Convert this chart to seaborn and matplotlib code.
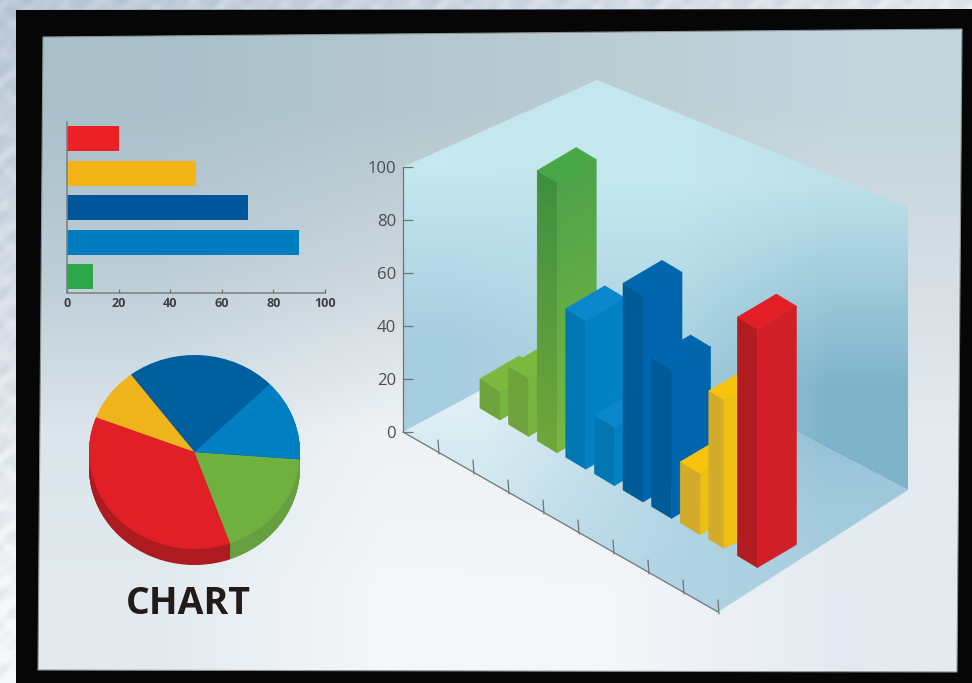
import numpy as np
import pandas as pd
import matplotlib
matplotlib.use('Agg')
import matplotlib.pyplot as plt
from matplotlib.colors import to_rgb
from matplotlib.patches import Polygon
import seaborn as sns

sns.set_theme(style='white')
plt.rcParams['font.family'] = ['Open Sans', 'DejaVu Sans']

W, H = 972, 683

# small bar chart
hbar_names = ['a', 'b', 'c', 'd', 'e']
hbar_values = [20, 50, 70, 90, 10]
hbar_colors = ['#ec2027', '#f2b417', '#00569a', '#007cc0', '#2ca84a']
hbar_ticks = [0, 20, 40, 60, 80, 100]

# pie
pie_values = [22.9, 8.9, 36.3, 18.3, 13.6]
pie_colors = ['#005f9f', '#efb41c', '#e11f26', '#6fb03f', '#0080c3']
pie_side_colors = ['#00467a', '#b98a10', '#ad1b20', '#659f3f', '#005f94']

# 3d bars, left to right
bar_values = [11, 22, 102, 56, 22, 78, 56, 23, 56, 90]
bar_groups = ['lime', 'lime', 'grass', 'sky', 'sky', 'navy', 'navy', 'gold', 'gold', 'red']
z_ticks = [0, 20, 40, 60, 80, 100]
floor_ticks = [1, 2, 3, 4, 5, 6, 7, 8, 9]

# top, left face (upper, lower), right face (upper, lower)
shades = {
    'lime': ('#7bba3f', '#6da33a', '#6ea23a', '#76b53f', '#76b53f'),
    'grass': ('#49a846', '#3f8f40', '#6fa63a', '#4da248', '#79b740'),
    'sky': ('#0a87cd', '#0077b0', '#0077b0', '#0081c4', '#0081c4'),
    'navy': ('#0066ae', '#005a95', '#005a95', '#0065ad', '#0065ad'),
    'gold': ('#f6c40c', '#d2ab2a', '#d2ab2a', '#eebf14', '#eebf14'),
    'red': ('#e21e26', '#b21b20', '#b21b20', '#d01f26', '#d01f26'),
}


def px_axes(left, top, right, bottom):
    return fig.add_axes([left / W, 1 - bottom / H, (right - left) / W, (bottom - top) / H],
                        facecolor='none')


def grad_poly(ax, corners, grid, z):
    # colour grid stretched over the bounding box, clipped to the polygon
    corners = np.array(corners, dtype=float)
    x0, y0 = corners.min(axis=0)
    x1, y1 = corners.max(axis=0)
    img = np.array([[to_rgb(c) for c in row] for row in grid])
    im = ax.imshow(img, extent=(x0, x1, y1, y0), aspect='auto', interpolation='bilinear', zorder=z)
    clip = Polygon(corners, closed=True, transform=ax.transData, fc='none', ec='none')
    im.set_clip_path(clip)
    return im


def shade_face(ax, low_a, low_b, height, up_col, low_col, z):
    # vertical face cut into bands so it fades from top to bottom
    up_rgb = np.array(to_rgb(up_col))
    low_rgb = np.array(to_rgb(low_col))
    steps = 30 if up_col != low_col else 1
    for k in range(steps):
        f0, f1 = k / steps, (k + 1) / steps
        col = up_rgb + (low_rgb - up_rgb) * (f0 + f1) / 2
        y_top, y_low = height * (1 - f0), height * (1 - f1)
        band = [(low_a[0], low_a[1] - y_top), (low_b[0], low_b[1] - y_top),
                (low_b[0], low_b[1] - y_low), (low_a[0], low_a[1] - y_low)]
        ax.add_patch(Polygon(band, fc=col, ec=col, lw=0.4, zorder=z))


fig = plt.figure(figsize=(W / 100, H / 100), dpi=100)

bg = px_axes(0, 0, W, H)
bg.set_xlim(0, W)
bg.set_ylim(H, 0)
bg.set_autoscale_on(False)
bg.axis('off')

# mottled strip outside the black frame
yy, xx = np.mgrid[0:H:2, 0:W:2]
mottle = (0.5 + 0.2 * np.sin(xx / 5 + 2 * np.sin(yy / 6)) + 0.2 * np.sin(yy / 4 + 2 * np.sin(xx / 7))
          + 0.1 * np.sin((xx + yy) / 2.5))
fade = np.clip(yy / H * 1.1 + xx / W * 0.7, 0, 1)
amount = np.clip(0.1 + 0.3 * mottle + 0.7 * fade, 0, 1)[..., None]
strip = (1 - amount) * np.array(to_rgb('#a6b7cb')) + amount * np.array(to_rgb('#f6f8f9'))
bg.imshow(strip, extent=(0, W, H, 0), aspect='auto', interpolation='bilinear', zorder=0)

bg.add_patch(Polygon([(16, 10), (W, 9), (W, H), (16, H)], fc='#060606', ec='none', zorder=1))

panel = [(43, 37), (962, 29), (957, 672), (38, 670)]
grad_poly(bg, panel, [['#a9c0ca', '#b3c6ce', '#bccdd4', '#c2d5dc'],
                      ['#bccdd6', '#cbd6dd', '#d3dbe1', '#d5dee4'],
                      ['#dbe5eb', '#eef2f5', '#eff2f6', '#e4eaf0'],
                      ['#e2eaef', '#f5f7f9', '#f4f6f9', '#e3eaf1']], 2)
bg.add_patch(Polygon(panel, fc='none', ec='#8a9296', lw=0.8, zorder=3))

# box of the 3d chart
origin = (403, 432)
origin_top = (403, 167)
back_floor = (597, 328)
back_top = (597, 80)
right_top = (908, 207)
right_floor = (908, 490)
front_tip = (718, 612)

grad_poly(bg, [origin, origin_top, back_top, back_floor],
          [['#c6e8ef', '#c4e7ee'], ['#a6cde0', '#aed3e2']], 4)
grad_poly(bg, [back_top, right_top, right_floor, back_floor],
          [['#c4e8ef', '#bfe2ea'], ['#a5cddd', '#7fb3cb']], 4)
grad_poly(bg, [origin, back_floor, right_floor, front_tip],
          [['#e6f2f7', '#b4d6e4', '#86b7ce'],
           ['#d4e9f1', '#b8d8e6', '#9cc6da'],
           ['#c4e0ec', '#b2d5e5', '#a8cee0']], 5)


def bar_point(i, along, deep):
    # floor point of bar i, measured from its front corner
    x = 500 + 28.6 * i + 20 * along + 39 * deep
    y = 420 + 16.4 * i + 12 * along - 23 * deep
    return x, y


for i, (val, grp) in enumerate(zip(bar_values, bar_groups)):
    top, left_up, left_low, right_up, right_low = shades[grp]
    z = 10 + i
    h = 2.65 * val
    left = bar_point(i, -1, 0)
    front = bar_point(i, 0, 0)
    right = bar_point(i, 0, 1)
    back = bar_point(i, -1, 1)
    # the yellow bar beside the red one has a narrower front face
    if i == 8:
        front = (front[0] - 5, front[1] - 3)
    shade_face(bg, left, front, h, left_up, left_low, z)
    shade_face(bg, front, right, h, right_up, right_low, z)
    top_face = [(p[0], p[1] - h) for p in (left, front, right, back)]
    bg.add_patch(Polygon(top_face, fc=top, ec=top, lw=0.4, zorder=z))

# floor axis
bg.plot([origin[0], front_tip[0]], [origin[1], front_tip[1]], color='#6f7477', lw=0.9, zorder=6)
for t in floor_ticks:
    tx = origin[0] + 35 * t
    ty = origin[1] + 20 * t
    bg.plot([tx, tx + 1], [ty - 12, ty + 2], color='#6f7477', lw=0.9, zorder=6)

# height axis
zax = px_axes(403, 167, 413, 432)
zax.set_ylim(0, 100)
zax.set_xlim(0, 1)
zax.set_xticks([])
zax.set_yticks(z_ticks)
zax.tick_params(axis='y', direction='in', length=7, width=0.9, color='#6f7477',
                labelsize=12, labelcolor='#4d4d4f', pad=5, left=True)
sns.despine(ax=zax, top=True, right=True, bottom=True)
zax.spines['left'].set_color('#6f7477')
zax.spines['left'].set_linewidth(0.9)

# horizontal bars
bar_ax = px_axes(67, 122, 325, 293)
df_bars = pd.DataFrame({'name': hbar_names, 'value': hbar_values})
sns.barplot(data=df_bars, x='value', y='name', hue='name', palette=hbar_colors, order=hbar_names,
            orient='h', width=0.73, legend=False, saturation=1, linewidth=0, ax=bar_ax)
bar_ax.set_xlim(0, 100)
bar_ax.set_ylim(4.48, -0.49)
bar_ax.set_xticks(hbar_ticks)
bar_ax.set_yticks([])
bar_ax.set_xlabel('')
bar_ax.set_ylabel('')
bar_ax.tick_params(axis='x', direction='in', length=3, width=0.9, color='#6f6f72', bottom=True,
                   labelsize=9, labelcolor='#3f3f42', pad=3)
for lab in bar_ax.get_xticklabels():
    lab.set_fontweight('bold')
sns.despine(ax=bar_ax, top=True, right=True)
for side in ['left', 'bottom']:
    bar_ax.spines[side].set_color('#7b7f82')
    bar_ax.spines[side].set_linewidth(1.1)

# pie, squashed a little, with stacked copies as the rim
pie_ax = px_axes(89, 355, 300, 565)
rim = 16 / 97
no_edge = {'linewidth': 0, 'edgecolor': 'none'}
for off in np.linspace(rim, 0.01, 24):
    pie_ax.pie(pie_values, colors=pie_side_colors, startangle=44.6, counterclock=True,
               center=(0, -off), radius=1, wedgeprops=no_edge)
pie_ax.pie(pie_values, colors=pie_colors, startangle=44.6, counterclock=True, radius=1,
           wedgeprops=no_edge)
pie_ax.set_aspect('auto')
pie_ax.set_xlim(-1, 1)
pie_ax.set_ylim(-1 - rim, 1)

bg.text(188, 604, 'CHART', fontsize=27, fontweight='bold', color='#231a1a',
        ha='center', va='center', zorder=30)

fig.savefig('out.png', dpi=100)
